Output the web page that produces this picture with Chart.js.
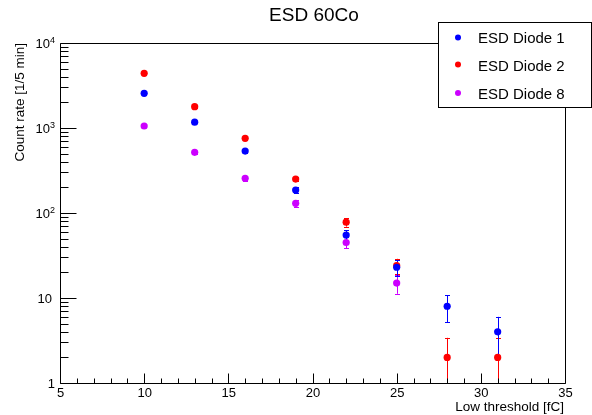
<!DOCTYPE html>
<html>
<head>
<meta charset="utf-8">
<script src="https://cdn.jsdelivr.net/npm/chart.js@4/dist/chart.umd.min.js"></script>
<style>
  html, body { margin: 0; padding: 0; background: #fff; }
</style>
</head>
<body>
<canvas id="chart" width="592" height="415"></canvas>
<script>
// low threshold settings [fC]
const thresholds = [10, 13, 16, 19, 22, 25, 28, 31]

// count rates per 5 min, null = no counts
const diode1 = [2560, 1170, 535, 186, 55, 23, 8, 4]
const diode2 = [4400, 1780, 757, 251, 78, 24, 2, 2]
const diode8 = [1056, 518, 256, 130, 45, 15, null, null]

// statistical errors
const diode1Err = [51, 34, 23, 14, 7.4, 4.8, 2.8, 2]
const diode2Err = [66, 42, 28, 16, 8.8, 4.9, 1.4, 1.4]
const diode8Err = [33, 23, 16, 11, 6.7, 3.8, null, null]

const xTicks = [5, 10, 15, 20, 25, 30, 35]
const yTicks = [1, 10, 100, 1000, 10000]
const yTickLabels = [['1', ''], ['10', ''], ['10', '2'], ['10', '3'], ['10', '4']]

const FONT = '"Liberation Sans", Arial, Helvetica, sans-serif'

function points(values, errors) {
  let out = []
  thresholds.forEach((x, i) => {
    if (values[i] != null) out.push({ x, y: values[i], err: errors[i] })
  })
  return out
}

function series(label, values, errors, color) {
  return {
    label,
    data: points(values, errors),
    backgroundColor: color,
    borderColor: color,
    pointRadius: 3.6,
    pointBorderWidth: 0,
    pointHoverRadius: 3.6,
  }
}

// vertical error bars with small end caps, under the markers
const errorBars = {
  id: 'errorBars',
  beforeDatasetsDraw(chart) {
    const { ctx, chartArea: area, scales } = chart
    ctx.save()
    ctx.beginPath()
    ctx.rect(area.left, area.top, area.right - area.left, area.bottom - area.top)
    ctx.clip()
    ctx.lineWidth = 1
    for (let d = chart.data.datasets.length - 1; d >= 0; d--) {
      const ds = chart.data.datasets[d]
      ctx.strokeStyle = ds.borderColor
      ds.data.forEach(p => {
        if (p.err == null) return
        const x = Math.round(scales.x.getPixelForValue(p.x)) + 0.5
        const yHi = scales.y.getPixelForValue(p.y + p.err)
        const lo = p.y - p.err
        const yLo = lo > 0 ? scales.y.getPixelForValue(lo) : area.bottom + 5
        ctx.beginPath()
        ctx.moveTo(x, yHi)
        ctx.lineTo(x, yLo)
        ctx.moveTo(x - 2.5, Math.round(yHi) + 0.5)
        ctx.lineTo(x + 2.5, Math.round(yHi) + 0.5)
        if (lo > 0) {
          ctx.moveTo(x - 2.5, Math.round(yLo) + 0.5)
          ctx.lineTo(x + 2.5, Math.round(yLo) + 0.5)
        }
        ctx.stroke()
      })
    }
    ctx.restore()
  },
}

// frame, inside ticks, labels, titles and legend box
const rootFrame = {
  id: 'rootFrame',
  afterDraw(chart) {
    const { ctx, chartArea: a, scales } = chart
    const L = a.left + 0.5, R = a.right + 0.5, T = a.top + 0.5, B = a.bottom + 0.5
    ctx.save()
    ctx.strokeStyle = '#000'
    ctx.lineWidth = 1
    ctx.beginPath()
    ctx.rect(L, T, R - L, B - T)
    ctx.stroke()

    // y ticks (log decades with minor ticks)
    ctx.beginPath()
    for (let dec = 1; dec <= 10000; dec *= 10) {
      for (let m = 1; m <= 9; m++) {
        const v = dec * m
        if (v > 10000) break
        const y = Math.round(scales.y.getPixelForValue(v)) + 0.5
        const len = m === 1 ? 16 : 8
        ctx.moveTo(L, y)
        ctx.lineTo(L + len, y)
      }
    }
    // x ticks
    for (let v = 5; v <= 35; v++) {
      const x = Math.round(scales.x.getPixelForValue(v)) + 0.5
      const len = v % 5 === 0 ? 10 : 5
      ctx.moveTo(x, B)
      ctx.lineTo(x, B - len)
    }
    ctx.stroke()

    ctx.fillStyle = '#000'
    // y tick labels
    yTicks.forEach((v, i) => {
      const y = scales.y.getPixelForValue(v)
      const [base, sup] = yTickLabels[i]
      const right = sup ? 55 : (base === '1' ? 55 : 52)
      ctx.font = '9px ' + FONT
      const supW = sup ? ctx.measureText(sup).width : 0
      ctx.font = '13px ' + FONT
      ctx.textAlign = 'right'
      ctx.textBaseline = 'alphabetic'
      ctx.fillText(base, right - supW, y + 5)
      if (sup) {
        ctx.font = '9px ' + FONT
        ctx.textAlign = 'left'
        ctx.fillText(sup, right - supW, y - 0.5)
      }
    })
    // x tick labels
    ctx.font = '13px ' + FONT
    ctx.textAlign = 'center'
    ctx.textBaseline = 'alphabetic'
    xTicks.forEach(v => {
      ctx.fillText(String(v), scales.x.getPixelForValue(v) + 0.5, 397)
    })

    // axis titles
    ctx.font = '13.5px ' + FONT
    ctx.textAlign = 'right'
    ctx.fillText('Low threshold [fC]', 564, 411)
    ctx.save()
    ctx.translate(24, 43)
    ctx.rotate(-Math.PI / 2)
    ctx.fillText('Count rate [1/5 min]', 0, 0)
    ctx.restore()

    // title
    ctx.font = '19px ' + FONT
    ctx.textAlign = 'center'
    ctx.fillText('ESD 60Co', 314, 21)

    // legend
    ctx.fillStyle = '#fff'
    ctx.fillRect(438.5, 22.5, 153, 85)
    ctx.strokeRect(438.5, 22.5, 153, 85)
    const rows = [37.5, 64.5, 93]
    const bases = [43, 71, 99]
    chart.data.datasets.forEach((ds, i) => {
      ctx.fillStyle = ds.backgroundColor
      ctx.beginPath()
      ctx.arc(458, rows[i], 3, 0, Math.PI * 2)
      ctx.fill()
      ctx.fillStyle = '#000'
      ctx.font = '15px ' + FONT
      ctx.textAlign = 'left'
      ctx.fillText(ds.label, 478, bases[i])
    })
    ctx.restore()
  },
}

const ctx = document.getElementById('chart')
new Chart(ctx, {
  type: 'scatter',
  data: {
    datasets: [
      series('ESD Diode 1', diode1, diode1Err, '#0000ff'),
      series('ESD Diode 2', diode2, diode2Err, '#ff0000'),
      series('ESD Diode 8', diode8, diode8Err, '#cc00ff'),
    ],
  },
  options: {
    responsive: false,
    animation: false,
    layout: { padding: { left: 60, right: 27, top: 43, bottom: 32 } },
    scales: {
      x: { type: 'linear', min: 5, max: 35, display: false },
      y: { type: 'logarithmic', min: 1, max: 10000, display: false },
    },
    plugins: {
      legend: { display: false },
      tooltip: { enabled: false },
    },
  },
  plugins: [errorBars, rootFrame],
})
</script>
</body>
</html>
